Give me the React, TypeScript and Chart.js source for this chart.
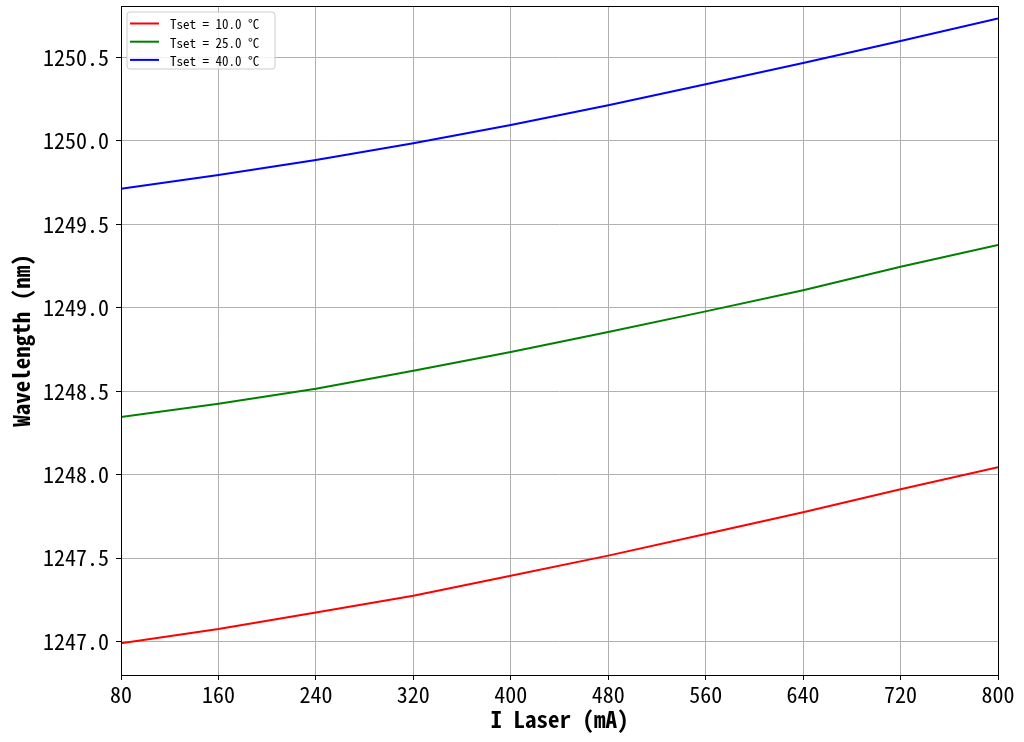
import React, { useEffect, useRef } from "react";
import { Chart, registerables } from "chart.js";

Chart.register(...registerables);

const currents = [80, 160, 240, 320, 400, 480, 560, 640, 720, 800];
const wl10 = [1246.99, 1247.075, 1247.175, 1247.275, 1247.395, 1247.515, 1247.645, 1247.775, 1247.912, 1248.045];
const wl25 = [1248.345, 1248.425, 1248.515, 1248.622, 1248.735, 1248.855, 1248.978, 1249.105, 1249.245, 1249.375];
const wl40 = [1249.712, 1249.795, 1249.884, 1249.985, 1250.094, 1250.213, 1250.338, 1250.465, 1250.597, 1250.733];

const seriesLabels = ["Tset = 10.0 °C", "Tset = 25.0 °C", "Tset = 40.0 °C"];
const seriesColors = ["#ff0000", "#008000", "#0000ff"];

const xTicks = [80, 160, 240, 320, 400, 480, 560, 640, 720, 800];
const yTicks = [1247.0, 1247.5, 1248.0, 1248.5, 1249.0, 1249.5, 1250.0, 1250.5];

const FONT = "'Noto Sans Mono CJK SC', 'Noto Sans CJK SC', 'DejaVu Sans Mono', sans-serif";

const framePlugin = {
  id: "frameAndLegend",
  afterDatasetsDraw(chart: any) {
    const { ctx, chartArea } = chart;
    const { left, right, top, bottom } = chartArea;
    ctx.save();
    ctx.strokeStyle = "#000";
    ctx.lineWidth = 1;
    ctx.strokeRect(Math.round(left) + 0.5, Math.round(top) + 0.5, Math.round(right - left), Math.round(bottom - top));
    // legend
    const bx = left + 6;
    const by = top + 6;
    const bw = 148;
    const bh = 57;
    ctx.beginPath();
    const r = 3;
    ctx.moveTo(bx + r, by);
    ctx.lineTo(bx + bw - r, by);
    ctx.quadraticCurveTo(bx + bw, by, bx + bw, by + r);
    ctx.lineTo(bx + bw, by + bh - r);
    ctx.quadraticCurveTo(bx + bw, by + bh, bx + bw - r, by + bh);
    ctx.lineTo(bx + r, by + bh);
    ctx.quadraticCurveTo(bx, by + bh, bx, by + bh - r);
    ctx.lineTo(bx, by + r);
    ctx.quadraticCurveTo(bx, by, bx + r, by);
    ctx.closePath();
    ctx.fillStyle = "rgba(255,255,255,0.85)";
    ctx.fill();
    ctx.strokeStyle = "#cccccc";
    ctx.lineWidth = 1;
    ctx.stroke();
    ctx.font = `13px ${FONT}`;
    ctx.textBaseline = "middle";
    ctx.textAlign = "left";
    chart.data.datasets.forEach((ds: any, i: number) => {
      const cy = top + 17.5 + i * 18.2;
      ctx.beginPath();
      ctx.strokeStyle = ds.borderColor;
      ctx.lineWidth = 2;
      ctx.moveTo(left + 9, cy);
      ctx.lineTo(left + 38, cy);
      ctx.stroke();
      ctx.fillStyle = "#000";
      ctx.fillText(ds.label, left + 49, cy + 1);
    });
    ctx.restore();
  },
};

export default function App() {
  const canvasRef = useRef<HTMLCanvasElement | null>(null);

  useEffect(() => {
    const canvas = canvasRef.current;
    if (!canvas) return;
    const sets = [wl10, wl25, wl40];
    const chart = new Chart(canvas, {
      type: "line",
      data: {
        datasets: sets.map((vals, i) => ({
          label: seriesLabels[i],
          data: currents.map((c, j) => ({ x: c, y: vals[j] })),
          borderColor: seriesColors[i],
          backgroundColor: seriesColors[i],
          borderWidth: 2,
          pointRadius: 0,
          tension: 0,
          fill: false,
        })),
      },
      options: {
        responsive: false,
        animation: false,
        devicePixelRatio: 1,
        layout: { padding: { top: 6, right: 26, left: 0, bottom: 0 } },
        plugins: {
          legend: { display: false },
          tooltip: { enabled: false },
        },
        scales: {
          x: {
            type: "linear",
            min: 80,
            max: 800,
            afterBuildTicks: (scale: any) => {
              scale.ticks = xTicks.map((v) => ({ value: v }));
            },
            afterFit: (scale: any) => {
              scale.height = 67;
              scale.paddingLeft = 0;
              scale.paddingRight = 0;
            },
            grid: {
              color: "#b0b0b0",
              lineWidth: 1,
              tickColor: "#000",
              tickLength: 5,
              tickWidth: 1,
            },
            border: { display: false },
            ticks: {
              color: "#000",
              font: { family: FONT, size: 22 },
              padding: 1,
              maxRotation: 0,
              callback: (v: any) => String(v),
            },
            title: {
              display: true,
              text: "I Laser (mA)",
              color: "#000",
              font: { family: FONT, size: 23, weight: "bold" },
              padding: { top: 0, bottom: 9 },
            },
          },
          y: {
            type: "linear",
            min: 1246.8,
            max: 1250.807,
            afterBuildTicks: (scale: any) => {
              scale.ticks = yTicks.map((v) => ({ value: v }));
            },
            afterFit: (scale: any) => {
              scale.width = 121;
              scale.paddingTop = 0;
              scale.paddingBottom = 0;
            },
            grid: {
              color: "#b0b0b0",
              lineWidth: 1,
              tickColor: "#000",
              tickLength: 5,
              tickWidth: 1,
            },
            border: { display: false },
            ticks: {
              color: "#000",
              font: { family: FONT, size: 22 },
              padding: 7,
              callback: (v: any) => Number(v).toFixed(1),
            },
            title: {
              display: true,
              text: "Wavelength (nm)",
              color: "#000",
              font: { family: FONT, size: 23, weight: "bold" },
              padding: { top: 7, bottom: 0 },
            },
          },
        },
      },
      plugins: [framePlugin],
    } as any);
    return () => chart.destroy();
  }, []);

  return (
    <div style={{ position: "fixed", left: 0, top: 0, width: 1024, height: 742, background: "#fff" }}>
      <canvas ref={canvasRef} width={1024} height={742} style={{ width: 1024, height: 742, display: "block" }} />
    </div>
  );
}
